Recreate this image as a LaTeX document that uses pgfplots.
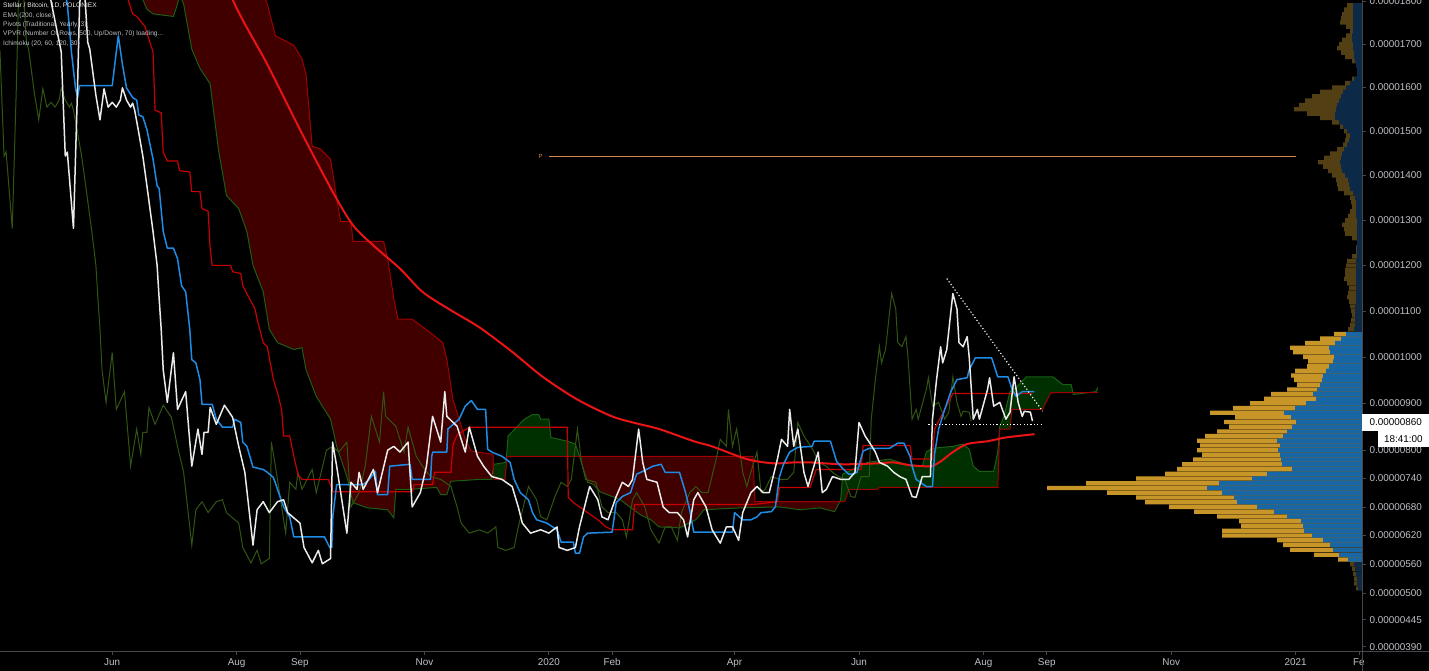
\documentclass[border=0pt]{standalone}
\usepackage{fontspec}
\setmainfont{Liberation Sans}
\usepackage{pgfplots}
\usepackage{pgfplotstable}
\pgfplotsset{compat=1.18}

\definecolor{axgray}{RGB}{70,72,78}
\definecolor{lblgray}{RGB}{190,192,198}
\definecolor{closew}{RGB}{235,235,235}
\definecolor{tenkan}{RGB}{30,140,230}
\definecolor{kijun}{RGB}{200,0,0}
\definecolor{spanb}{RGB}{160,0,0}
\definecolor{spana}{RGB}{25,95,20}
\definecolor{lag}{RGB}{50,85,18}
\definecolor{cloudr}{RGB}{64,0,0}
\definecolor{cloudg}{RGB}{0,48,0}
\definecolor{ema}{RGB}{235,20,20}
\definecolor{pivot}{RGB}{215,135,75}
\definecolor{vpy}{RGB}{200,150,40}
\definecolor{vpb}{RGB}{25,102,165}
\definecolor{vpyd}{RGB}{82,64,20}
\definecolor{vpbd}{RGB}{12,42,72}

\pgfplotsset{
  pricetrafo/.style={
    y coord trafo/.code={\begingroup\pgfkeys{/pgf/fpu=true,/pgf/fpu/output format=fixed}\pgfmathparse{##1-0.0000422*(##1)*(##1)}\pgfmathsmuggle\pgfmathresult\endgroup},
    y coord inv trafo/.code={\begingroup\pgfkeys{/pgf/fpu=true,/pgf/fpu/output format=fixed}\pgfmathparse{(1-sqrt(1-0.0001688*(##1)))/0.0000844}\pgfmathsmuggle\pgfmathresult\endgroup},
  }
}

% close price (days from 2020-01-01, satoshi)
\pgfplotstableread{
d v
-245 1859
-244 1800
-239 1682
-237 1444
-236 1453
-233 1282
-231 1599
-230 1793
-228 1859
-226 1704
-225 1688
-222 1582
-220 1526
-218 1597
-216 1555
-214 1566
-212 1555
-210 1571
-209 1599
-207 1571
-205 1555
-204 1564
-203 1548
-201 1497
-199 1444
-197 1377
-194 1275
-192 1200
-191 1127
-190 1060
-189 972
-187 902
-184 1009
-182 887
-178 925
-175 766
-172 845
-170 791
-169 838
-167 838
-166 891
-163 855
-159 896
-155 870
-152 808
-149 753
-145 600
-143 674
-140 691
-137 668
-133 691
-130 695
-128 668
-122 646
-120 595
-116 563
-113 589
-111 561
-107 572
-106 817
-104 766
-99 625
-97 732
-94 717
-93 753
-91 717
-86 759
-84 710
-79 800
-76 808
-73 796
-69 817
-67 680
-63 710
-60 766
-57 872
-53 817
-51 925
-50 872
-45 851
-41 796
-39 849
-35 787
-32 766
-28 744
-23 738
-18 723
-15 680
-13 646
-9 625
-4 632
0 625
4 638
5 595
9 589
13 595
15 638
18 689
20 723
24 695
26 659
29 653
33 702
36 732
39 723
41 738
44 845
46 774
48 738
53 732
56 680
59 668
63 668
66 653
68 617
71 695
73 710
77 680
80 632
84 604
87 638
90 638
93 610
95 668
99 710
102 723
105 710
108 710
112 781
114 823
117 808
118 887
120 808
122 845
123 817
125 753
127 723
129 753
132 796
134 710
136 717
139 744
143 738
147 738
150 753
152 859
155 830
157 817
160 796
162 774
166 766
169 753
172 744
175 738
178 702
180 700
183 744
187 744
188 866
190 951
192 1022
193 987
195 1016
197 1098
198 1138
200 1104
201 1031
203 1022
205 1044
206 1000
208 866
210 887
211 866
215 930
216 955
218 894
221 902
224 866
226 881
228 957
230 902
232 872
233 883
236 881
237 862
}\closedata

% Ichimoku conversion line (20)
\pgfplotstableread{
d v
-239 1859
-236 1793
-234 1682
-232 1599
-231 1577
-230 1604
-214 1604
-212 1682
-211 1719
-209 1653
-207 1599
-204 1577
-202 1571
-201 1537
-199 1533
-197 1504
-194 1437
-192 1377
-191 1371
-189 1275
-187 1238
-184 1238
-182 1215
-180 1155
-178 1142
-176 1060
-175 994
-173 987
-171 951
-170 898
-165 898
-163 866
-160 849
-155 849
-154 866
-151 859
-150 817
-148 808
-145 764
-140 759
-138 753
-135 742
-133 717
-130 680
-127 659
-125 617
-110 617
-107.4 595
-106.4 595
-105.9 659
-104 727
-91 727
-88 738
-85 755
-84 706
-79 706
-78 766
-68 770
-67 738
-58 738
-57.4 787
-56.9 796
-50 796
-49.5 845
-44 866
-41 894
-38 906
-35 887
-31 887
-30 802
-28 796
-23 787
-19 774
-17 738
-14 710
-10 695
-8 668
-6 653
-1 646
4 632
6 606
12 606
13 583
15 583
17 617
19 625
31 627
33 689
36 702
40 710
43 749
46 755
51 766
55 770
57 753
64 753
67 710
69 674
71 627
90 627
91 668
95 653
99 653
102 659
104 668
109 670
111 680
113 744
115 770
118 796
122 806
129 808
130 819
138 819
141 776
144 761
147 749
149 749
151 753
154 798
157 804
167 804
171 815
174 815
177 787
178 766
180 738
185 723
188 723
189 791
191 845
194 887
197 925
200 951
205 955
206 972
209 998
217 998
220 957
225 957
227 930
229 915
232 925
238 925
}\tenkandata

% Ichimoku base line (60)
\pgfplotstableread{
d v
-210 1859
-204 1770
-202 1764
-198 1741
-196 1710
-194 1682
-193 1548
-190 1542
-189 1453
-187 1433
-182 1433
-181 1411
-176 1408
-175 1364
-171 1364
-170 1326
-167 1320
-166 1238
-165 1200
-156 1200
-155 1186
-151 1182
-150 1155
-144 1104
-143 1082
-140 1031
-138 1022
-135 951
-133 923
-131 887
-130 830
-127 830
-125 787
-123 749
-121 738
-108 738
-106 712
-67 712
-66 727
-57 727
-56 753
-48 753
-47 811
-45 832
-39 849
9 849
9.5 700
12 689
15 680
24 653
28 638
31 632
41 632
42 685
100 685
112 691
113 721
128 721
131 759
153 759
154 810
177 810
178 781
188 781
189 845
194 887
198 921
237 921
}\kijundata

% Leading span A
\pgfplotstableread{
d v
-210 1900
-205 1882
-200 1815
-197 1781
-194 1770
-184 1764
-182 1793
-181 1815
-179 1793
-175 1688
-171 1644
-166 1608
-162 1460
-158 1355
-152 1326
-148 1275
-145 1200
-140 1142
-137 1060
-133 1031
-125 1016
-121 1020
-119 972
-114 915
-107 866
-104 808
-99 744
-96 689
-89 678
-79 674
-76 657
-75 717
-68 717
-55 721
-53 706
-50 706
-48 734
-34 738
-28 738
-27 770
-21 774
-20 830
-12 866
-8 876
-5 876
-4 866
0 866
1 827
9 819
13 813
15 787
19 732
22 727
25 712
35 695
45 663
50 653
54 638
64 636
72 653
76 674
94 678
113 680
123 674
133 678
140 670
143 695
144 749
149 759
156 774
167 781
175 770
183 766
185 796
188 804
198 808
203 813
206 802
208 766
211 755
218 755
220 796
221 851
223 872
226 925
229 934
234 957
247 957
252 940
256 940
257 919
268 925
269 934
}\spanAdata

% Leading span B
\pgfplotstableread{
d v
-210 2050
-200 2015
-171 1970
-142 1837
-138 1793
-134 1719
-125 1697
-121 1666
-119 1630
-116 1466
-112 1460
-107 1437
-104 1349
-102 1297
-97 1297
-96 1253
-81 1253
-79 1215
-76 1127
-74 1082
-67 1082
-57 1049
-52 1031
-50 994
-47 908
-44 866
-41 823
-38 798
-27.4 791
-26.9 738
-21.5 738
-20.5 787
100 787
101 691
145 691
147 717
161 717
162 721
220 721
221 845
226 845
227 887
242 887
246 923
269 923
}\spanBdata

% cloud areas between span A and span B (red: B above A, green: A above B)
\pgfplotstableread{
d v
-210 1900
-205 1882
-200 1815
-197 1781
-194 1770
-184 1764
-182 1793
-181 1815
-179 1793
-175 1688
-171 1644
-166 1608
-162 1460
-158 1355
-152 1326
-148 1275
-145 1200
-140 1142
-137 1060
-133 1031
-125 1016
-121 1020
-119 972
-114 915
-107 866
-104 808
-99 744
-96 689
-89 678
-79 674
-76 657
-75 717
-68 717
-55 721
-53 706
-50 706
-48 734
-34 738
-28 738
-27.2 766
-27.4 791
-38 798
-41 823
-44 866
-47 908
-50 994
-52 1031
-57 1049
-67 1082
-74 1082
-76 1127
-79 1215
-81 1253
-96 1253
-97 1297
-102 1297
-104 1349
-107 1437
-112 1460
-116 1466
-119 1630
-121 1666
-125 1697
-134 1719
-138 1793
-142 1837
-171 1970
-200 2015
-210 2050
}\cloudRa

\pgfplotstableread{
d v
-27.2 766
-27 770
-21 774
-20 830
-12 866
-8 876
-5 876
-4 866
0 866
1 827
9 819
13 813
15 787
-20.5 787
-21.5 738
-26.9 738
}\cloudGa

\pgfplotstableread{
d v
15 787
19 732
22 727
25 712
35 695
45 663
50 653
54 638
64 636
72 653
76 674
94 678
113 680
123 674
133 678
140 670
142.5 691
101 691
100 787
}\cloudRb

\pgfplotstableread{
d v
142.5 691
143 695
144 749
149 759
156 774
167 781
175 770
183 766
185 796
188 804
198 808
203 813
206 802
208 766
211 755
218 755
220 796
221 851
223 872
226 925
229 934
234 957
247 957
252 940
256 940
257 919
268 925
269 934
269 923
246 923
242 887
227 887
226 845
221 845
220 721
162 721
161 717
147 717
145 691
}\cloudGb

% EMA 200
\pgfplotstableread{
d v
-171 1992
-154 1793
-138 1653
-122 1504
-106 1364
-96 1289
-86 1244
-73 1193
-62 1142
-49 1104
-34 1064
-18 1011
-3 957
14 908
31 872
43 857
54 845
71 819
80 808
97 781
110 772
120 774
128 774
144 770
161 772
169 774
177 768
187 766
192 776
198 796
205 813
215 819
224 827
238 834
}\emadata

% Volume profile, value area rows: price, total length, down length
\pgfplotstableread{
p t b
1050 28 16
1040 42 21
1030 57 27
1020 72 33
1010 69 32
1000 59 28
990 54 29
980 55 33
970 67 36
960 71 39
950 68 40
940 65 42
930 75 45
920 91 49
910 98 46
900 112 56
890 129 67
880 152 78
870 127 71
860 138 66
850 133 70
840 145 75
830 157 79
820 165 85
810 162 82
800 165 84
790 160 82
780 169 81
770 180 80
760 185 70
750 197 95
740 226 110
730 276 143
720 315 155
710 255 140
700 226 128
690 217 125
680 193 105
670 168 88
660 145 75
650 123 61
640 121 59
630 140 58
620 140 50
610 85 39
600 79 32
590 72 29
580 48 23
570 24 14
}\vpmain

\pgfplotstableread{
p t b
1790 15 9
1780 18 9
1770 20 9
1760 21 9
1750 22 9
1740 16 9
1730 12 9
1720 16 10
1710 20 10
1700 23 9
1690 25 9
1680 21 8
1670 17 8
1660 10 7
1650 6 6
1640 5 5
1630 5 5
1620 10 8
1610 17 12
1600 30 16
1590 42 19
1580 50 21
1570 57 23
1560 63 25
1550 68 26
1540 55 27
1530 42 27
1520 30 23
1510 22 19
1500 18 15
1490 16 12
1480 17 13
1470 19 15
1460 25 18
1450 32 20
1440 38 21
1430 44 22
1420 39 21
1410 34 20
1400 30 17
1390 26 14
1380 25 13
1370 24 12
1360 18 9
1350 12 7
1340 11 6
1330 10 6
1320 12 6
1310 14 6
1300 17 5
1290 20 5
1280 18 5
1270 17 5
1260 10 5
1250 5 5
1240 6 5
1230 6 5
1220 10 5
1210 15 6
1200 16 6
1190 17 6
1180 17 6
1170 18 6
1160 15 6
1150 13 6
1140 14 6
1130 15 6
1120 13 6
1110 12 7
1100 11 7
1090 10 7
1080 11 7
1070 12 7
1060 14 8
}\vpup

\pgfplotstableread{
p t b
560 12 8
550 10 7
540 9 6
530 8 5
520 8 5
510 6 4
}\vplow

\begin{document}
\begin{tikzpicture}
\fill[black] (0pt,0pt) rectangle (1429pt,671pt);

% volume profile (behind)
\begin{axis}[
  scale only axis, width=1362pt, height=651pt, at={(0pt,20pt)}, anchor=south west,
  x dir=reverse, xmin=0, xmax=1362, ymin=381, ymax=1802.4,
  pricetrafo,
  hide axis, clip=true]
\addplot[xbar, bar width=4.2pt, bar shift=0pt, fill=vpy, draw=none] table[x=t, y=p] {\vpmain};
\addplot[xbar, bar width=4.2pt, bar shift=0pt, fill=vpb, draw=none] table[x=b, y=p] {\vpmain};
\addplot[xbar, bar width=4.2pt, bar shift=0pt, fill=vpyd, draw=none] table[x=t, y=p] {\vpup};
\addplot[xbar, bar width=4.2pt, bar shift=0pt, fill=vpbd, draw=none] table[x=b, y=p] {\vpup};
\addplot[xbar, bar width=4.2pt, bar shift=0pt, fill=vpyd, draw=none] table[x=t, y=p] {\vplow};
\addplot[xbar, bar width=4.2pt, bar shift=0pt, fill=vpbd, draw=none] table[x=b, y=p] {\vplow};
\end{axis}

\begin{axis}[
  scale only axis, width=1362pt, height=651pt, at={(0pt,20pt)}, anchor=south west,
  xmin=-269, xmax=398.5, ymin=381, ymax=1802.4,
  pricetrafo,
  axis x line*=bottom, axis y line*=right,
  axis line style={draw=axgray, line width=0.8pt},
  xtick={-214,-153,-122,-61,0,31,91,152,213,244,305,366,397},
  xticklabels={Jun,Aug,Sep,Nov,2020,Feb,Apr,Jun,Aug,Sep,Nov,2021,Fe},
  ytick={390,445,500,560,620,680,740,800,900,1000,1100,1200,1300,1400,1500,1600,1700,1800},
  yticklabels={0.00000390,0.00000445,0.00000500,0.00000560,0.00000620,0.00000680,0.00000740,0.00000800,0.00000900,0.00001000,0.00001100,0.00001200,0.00001300,0.00001400,0.00001500,0.00001600,0.00001700,0.00001800},
  tick align=outside, major tick length=4pt,
  tick style={draw=axgray, line width=0.8pt},
  ticklabel style={font=\fontsize{9.9}{10}\selectfont, text=lblgray},
  yticklabel style={anchor=west},
  /pgf/number format/assume math mode=true,
  clip=true]
\addplot[fill=cloudr, draw=none] table[x=d, y=v] {\cloudRa};
\addplot[fill=cloudg, draw=none] table[x=d, y=v] {\cloudGa};
\addplot[fill=cloudr, draw=none] table[x=d, y=v] {\cloudRb};
\addplot[fill=cloudg, draw=none] table[x=d, y=v] {\cloudGb};
\addplot[spana, line width=1pt] table[x=d, y=v] {\spanAdata};
\addplot[spanb, line width=1pt] table[x=d, y=v] {\spanBdata};
% lagging span: close plotted 30 days back
\addplot[lag, line width=1pt] table[x expr=\thisrowno{0}-30, y index=1] {\closedata};
\addplot[kijun, line width=1.2pt] table[x=d, y=v] {\kijundata};
\addplot[ema, line width=2pt, smooth, tension=0.5] table[x=d, y=v] {\emadata};
\addplot[tenkan, line width=1.5pt, line join=round] table[x=d, y=v] {\tenkandata};
\addplot[closew, line width=1.5pt, line join=round] table[x=d, y=v] {\closedata};
% yearly pivot
\addplot[pivot, line width=0.8pt] coordinates {(0,1444) (366,1444)};
% drawn trend lines
\addplot[white, line width=1.1pt, dash pattern=on 1.2pt off 2.2pt] coordinates {(195,1171) (242,883)};
\addplot[white, line width=1.1pt, dash pattern=on 1.2pt off 2.2pt] coordinates {(186,855) (242,855)};
\coordinate (pl) at (axis cs:-4,1444);
\coordinate (cur) at (axis cs:398.5,860);
\end{axis}

\draw[axgray, line width=0.8pt] (1362pt,0pt) -- (1362pt,671pt);
\draw[axgray, line width=0.8pt] (0pt,20pt) -- (1429pt,20pt);
\node[text=pivot, font=\fontsize{6}{6}\selectfont, inner sep=0pt] at (pl) {P};
\node[fill=white, text=black, anchor=west, minimum width=67pt, minimum height=17pt, inner sep=0pt, font=\fontsize{9.9}{10}\selectfont] at (cur) {0.00000860};
\path (cur) ++(67pt,-8.5pt) node[fill=white, text=black, anchor=north east, minimum width=51pt, minimum height=16pt, inner sep=0pt, font=\fontsize{9.9}{10}\selectfont] {18:41:00};
\node[anchor=north west, align=left, inner sep=0pt, text=lblgray, font=\fontsize{6.6}{9.3}\selectfont] at (3pt,668pt) {{\color{white!92!black}Stellar / Bitcoin, 1D, POLONIEX}\\EMA (200, close)\\Pivots (Traditional, Yearly, 3)\\VPVR (Number Of Rows, 500, Up/Down, 70) loading...\\Ichimoku (20, 60, 120, 30)};
\pgfresetboundingbox
\path[use as bounding box] (0pt,0pt) rectangle (1429pt,671pt);
\end{tikzpicture}
\end{document}
